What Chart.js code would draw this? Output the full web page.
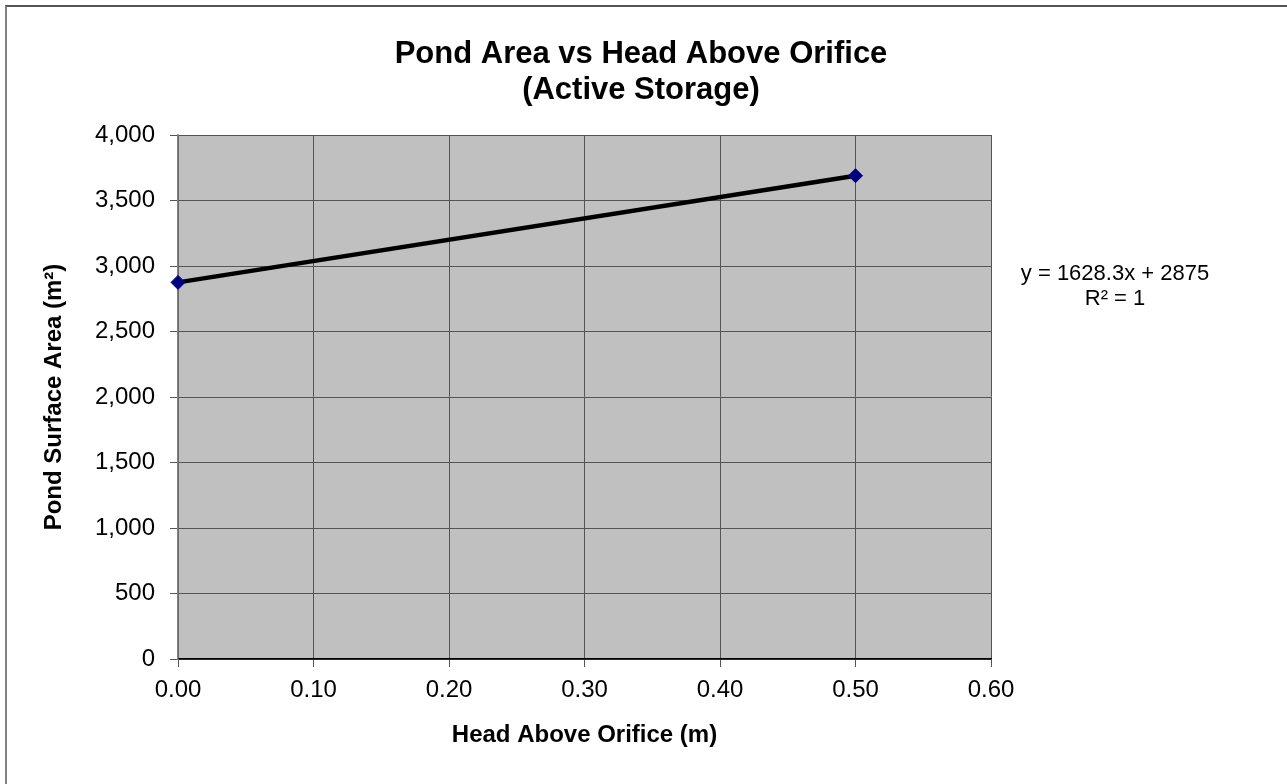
<!DOCTYPE html>
<html>
<head>
<meta charset="utf-8">
<script src="https://cdn.jsdelivr.net/npm/chart.js@4/dist/chart.umd.min.js"></script>
<style>
  html, body { margin: 0; padding: 0; background: #fff; }
  #wrap { position: relative; width: 1287px; height: 784px; overflow: hidden; }
  #frame { position: absolute; left: 5px; top: 5px; width: 1400px; height: 900px;
           border-left: 2px solid #808080; border-top: 2px solid #555; box-sizing: border-box; }
  canvas { position: absolute; left: 0; top: 0; }
</style>
</head>
<body>
<div id="wrap">
  <div id="frame"></div>
  <canvas id="c" width="1287" height="784"></canvas>
</div>
<script>
// Head above orifice (m) and pond surface area (m²)
const headValues = [0.0, 0.5];
const areaValues = [2875, 3689.15];
const xTickValues = [0, 0.1, 0.2, 0.3, 0.4, 0.5, 0.6];
const yTickValues = [0, 500, 1000, 1500, 2000, 2500, 3000, 3500, 4000];
const titleLines = ['Pond Area vs Head Above Orifice', '(Active Storage)'];
const trendLines = ['y = 1628.3x + 2875', 'R\u00B2 = 1'];

const FONT = '"Liberation Sans", Arial, sans-serif';

const plotBackground = {
  id: 'plotBackground',
  beforeDraw(chart) {
    const { ctx, chartArea: a } = chart;
    ctx.save();
    ctx.fillStyle = '#C0C0C0';
    ctx.fillRect(a.left, a.top, a.right - a.left, a.bottom - a.top);
    ctx.restore();
  }
};

const headerAndEquation = {
  id: 'headerAndEquation',
  afterDraw(chart) {
    const { ctx } = chart;
    ctx.save();
    ctx.fillStyle = '#000';
    ctx.textAlign = 'center';
    ctx.textBaseline = 'alphabetic';
    ctx.font = 'bold 31px ' + FONT;
    ctx.fillText(titleLines[0], 641, 63);
    ctx.fillText(titleLines[1], 641, 99);
    ctx.font = '22px ' + FONT;
    ctx.fillText(trendLines[0], 1115, 280);
    ctx.fillText(trendLines[1], 1115, 305);
    ctx.restore();
  }
};

new Chart(document.getElementById('c'), {
  type: 'scatter',
  data: {
    datasets: [{
      data: headValues.map((h, i) => ({ x: h, y: areaValues[i] })),
      showLine: true,
      borderColor: '#000',
      borderWidth: 4.5,
      pointStyle: 'rectRot',
      pointRadius: 7,
      pointHoverRadius: 7,
      pointBackgroundColor: '#000080',
      pointBorderColor: '#000080',
      pointBorderWidth: 1,
      clip: false
    }]
  },
  options: {
    responsive: false,
    animation: false,
    devicePixelRatio: 1,
    layout: { padding: { top: 135, right: 296, left: 0, bottom: 0 } },
    plugins: {
      legend: { display: false },
      tooltip: { enabled: false },
      title: { display: false }
    },
    scales: {
      x: {
        type: 'linear',
        min: 0, max: 0.6,
        afterBuildTicks(scale) { scale.ticks = xTickValues.map(v => ({ value: v })); },
        afterFit(scale) { scale.height = 784 - 659; },
        ticks: {
          color: '#000',
          font: { family: FONT, size: 24 },
          padding: 9,
          maxRotation: 0,
          callback: v => Number(v).toFixed(2)
        },
        grid: { color: '#555', lineWidth: 1, tickLength: 8, drawTicks: true },
        border: { color: '#000', width: 1.5 },
        title: {
          display: true,
          text: 'Head Above Orifice (m)',
          color: '#000',
          font: { family: FONT, size: 24, weight: 'bold' },
          padding: { top: 4, bottom: 34 }
        }
      },
      y: {
        type: 'linear',
        min: 0, max: 4000,
        afterBuildTicks(scale) { scale.ticks = yTickValues.map(v => ({ value: v })); },
        afterFit(scale) { scale.width = 178; },
        ticks: {
          color: '#000',
          font: { family: FONT, size: 24 },
          padding: 15,
          callback: v => Number(v).toLocaleString('en-US')
        },
        grid: { color: '#555', lineWidth: 1, tickLength: 8, drawTicks: true },
        border: { color: '#808080', width: 1.5 },
        title: {
          display: true,
          text: 'Pond Surface Area (m\u00B2)',
          color: '#000',
          font: { family: FONT, size: 24, weight: 'bold' },
          padding: { top: 40, bottom: 4 }
        }
      }
    }
  },
  plugins: [plotBackground, headerAndEquation]
});
</script>
</body>
</html>
